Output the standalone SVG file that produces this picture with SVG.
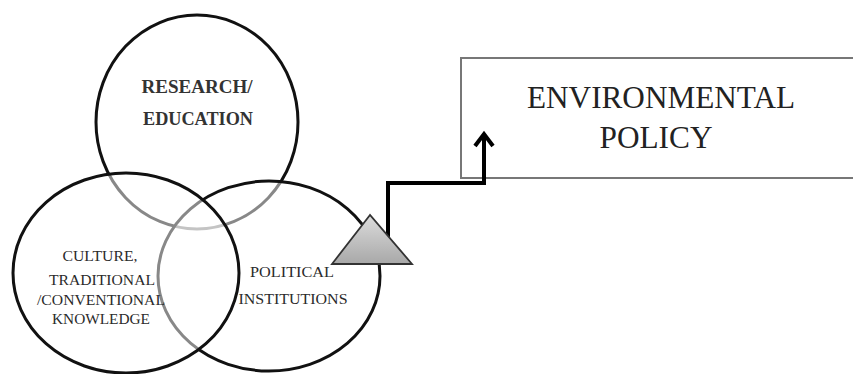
<svg xmlns="http://www.w3.org/2000/svg" width="853" height="374" viewBox="0 0 853 374">
<style>
.ring{fill:#fff;fill-opacity:0.5;stroke:#111;stroke-width:3}
text{font-family:'Liberation Serif','Times New Roman',serif;fill:#2a2a2a;text-anchor:middle}
.big{font-size:31px;fill:#222}
.sm{font-size:15.5px}
.md{font-size:19px;font-weight:bold;fill:#333}
.conn{fill:none;stroke:#000;stroke-width:4;stroke-linejoin:miter}
</style>
<defs>
<linearGradient id="tri" x1="0" y1="0" x2="0" y2="1">
<stop offset="0" stop-color="#dcdcdc"/>
<stop offset="1" stop-color="#a8a8a8"/>
</linearGradient>
<marker id="chev" markerUnits="userSpaceOnUse" markerWidth="28" markerHeight="28" viewBox="-16 -14 20 28" refX="0" refY="0" orient="auto">
<path d="M-12,-9 L0,0 L-12,9" fill="none" stroke="#000" stroke-width="4"/>
</marker>
</defs>
<rect width="853" height="374" fill="#fff"/>
<g id="research">
<ellipse class="ring" cx="197" cy="122" rx="101" ry="107"/>
<text class="md" x="197" y="93" textLength="111" lengthAdjust="spacingAndGlyphs">RESEARCH/</text>
<text class="md" x="198" y="125" textLength="110" lengthAdjust="spacingAndGlyphs">EDUCATION</text>
</g>
<g id="political">
<ellipse class="ring" cx="269" cy="276" rx="111" ry="95"/>
<text class="sm" x="292" y="277" textLength="84" lengthAdjust="spacingAndGlyphs">POLITICAL</text>
<text class="sm" x="293" y="304" textLength="109" lengthAdjust="spacingAndGlyphs">INSTITUTIONS</text>
</g>
<g id="culture">
<ellipse class="ring" cx="126" cy="273" rx="113" ry="100"/>
<text class="sm" x="100" y="261" textLength="75" lengthAdjust="spacingAndGlyphs">CULTURE,</text>
<text class="sm" x="102" y="285" textLength="106" lengthAdjust="spacingAndGlyphs">TRADITIONAL</text>
<text class="sm" x="101" y="305" textLength="128" lengthAdjust="spacingAndGlyphs">/CONVENTIONAL</text>
<text class="sm" x="101" y="324" textLength="98" lengthAdjust="spacingAndGlyphs">KNOWLEDGE</text>
</g>
<g id="policy">
<rect x="461" y="58" width="420" height="120" fill="#fff" stroke="#777" stroke-width="2"/>
<text class="big" x="661" y="108" textLength="268" lengthAdjust="spacingAndGlyphs">ENVIRONMENTAL</text>
<text class="big" x="656" y="148" textLength="113" lengthAdjust="spacingAndGlyphs">POLICY</text>
</g>
<g id="connectors">
<path class="conn" d="M388,237 V183 H484 V134" marker-end="url(#chev)"/>
</g>
<g id="trigger">
<polygon points="370,215 332,264 412,264" fill="url(#tri)" stroke="#333" stroke-width="1.8" stroke-linejoin="miter"/>
</g>
</svg>
